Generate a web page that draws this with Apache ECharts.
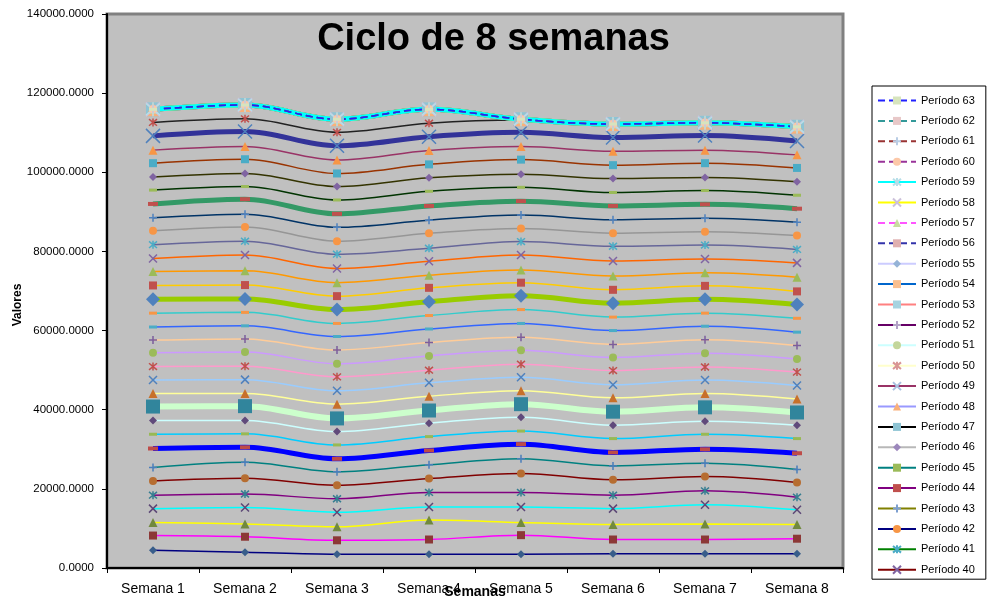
<!DOCTYPE html>
<html>
<head>
<meta charset="utf-8">
<script src="https://cdn.jsdelivr.net/npm/echarts@6/dist/echarts.min.js"></script>
<style>
  html, body { margin: 0; padding: 0; background: #ffffff; }
  #chart { width: 987px; height: 601px; }
</style>
</head>
<body>
<div id="chart"></div>
<script>
// Weeks of the cycle
const semanas = ['Semana 1', 'Semana 2', 'Semana 3', 'Semana 4', 'Semana 5', 'Semana 6', 'Semana 7', 'Semana 8'];

// Values per period (one value per week)
const p01 = [4500, 4000, 3500, 3500, 3500, 3600, 3600, 3600];
const p02 = [8200, 7900, 7000, 7200, 8300, 7200, 7200, 7400];
const p03 = [11500, 11100, 10400, 12100, 11500, 11000, 11100, 11000];
const p04 = [15000, 15300, 14100, 15400, 15400, 15000, 16000, 14700];
const p05 = [18400, 18700, 17500, 19100, 19100, 18400, 19500, 17900];
const p06 = [22000, 22700, 20900, 22600, 23900, 22300, 23100, 21600];
const p07 = [25400, 26700, 24300, 26100, 27600, 25800, 26500, 24900];
const p08 = [30200, 30500, 27600, 29700, 31300, 29200, 30000, 29000];
const p09 = [33800, 33900, 31100, 33200, 34600, 32700, 33800, 32700];
const p10 = [37300, 37300, 34500, 36600, 38100, 36100, 37100, 36100];
const p11 = [40800, 40900, 37800, 39800, 41400, 39500, 40600, 39300];
const p12 = [44100, 44100, 41400, 43400, 44800, 43000, 44100, 42700];
const p13 = [47500, 47600, 44800, 46800, 48200, 46300, 47500, 46100];
const p14 = [50900, 51000, 48300, 50000, 51500, 49900, 50800, 49500];
const p15 = [54400, 54600, 51600, 53600, 55000, 53200, 54300, 52800];
const p16 = [57600, 57900, 55100, 57000, 58300, 56500, 57700, 56200];
const p17 = [60900, 61200, 58500, 60400, 61800, 60000, 61100, 59600];
const p18 = [64400, 64600, 61800, 63800, 65300, 63400, 64400, 63100];
const p19 = [67900, 68000, 65300, 67300, 68800, 66900, 67900, 66600];
const p20 = [71400, 71500, 68700, 70800, 72100, 70300, 71300, 69900];
const p21 = [74900, 75100, 72100, 74000, 75300, 73800, 74600, 73500];
const p22 = [78200, 79100, 75700, 77500, 79100, 77600, 78100, 77100];
const p23 = [81700, 82600, 79300, 80800, 82500, 81300, 81600, 80500];
const p24 = [85200, 86200, 82600, 84600, 85800, 84600, 85000, 84000];
const p25 = [88500, 89400, 86100, 87900, 89200, 88000, 88400, 87400];
const p26 = [92000, 93200, 89500, 91500, 92700, 91500, 91900, 90800];
const p27 = [95500, 96400, 93000, 95200, 96200, 94900, 95400, 94200];
const p28 = [98800, 99700, 96400, 98600, 99500, 98400, 98700, 97600];
const p29 = [102300, 103300, 99700, 102000, 103200, 101800, 102300, 101100];
const p30 = [105600, 106500, 103100, 105500, 106500, 105300, 105600, 104400];
const p31 = [109200, 110300, 106700, 109000, 110100, 108800, 109300, 107900];
const p32 = [112600, 113500, 110100, 112400, 113200, 112000, 112300, 111300];
// Periods 33 to 63 all sit on the same ceiling values
const techo = [115900, 117000, 113400, 115900, 113400, 112200, 112500, 111500];

// Y axis ticks
const ticksY = [0, 20000, 40000, 60000, 80000, 100000, 120000, 140000];

const valores = [p01, p02, p03, p04, p05, p06, p07, p08, p09, p10, p11, p12, p13, p14, p15, p16,
  p17, p18, p19, p20, p21, p22, p23, p24, p25, p26, p27, p28, p29, p30, p31, p32];
const totalPeriodos = 63;
function datosPeriodo(n) { return n <= valores.length ? valores[n - 1] : techo; }

// ---- styling ----
const fuente = "'Liberation Sans', Arial, sans-serif";

const coloresLinea = [
  '#000080', '#FF00FF', '#FFFF00', '#00FFFF', '#800080', '#800000', '#008080', '#0000FF',
  '#00CCFF', '#CCFFFF', '#CCFFCC', '#FFFF99', '#99CCFF', '#FF99CC', '#CC99FF', '#FFCC99',
  '#3366FF', '#33CCCC', '#99CC00', '#FFCC00', '#FF9900', '#FF6600', '#666699', '#969696',
  '#003366', '#339966', '#003300', '#333300', '#993300', '#993366', '#333399', '#222222',
  '#000000', '#FF0000', '#00FF00', '#0000FF', '#FFFF00', '#FF00FF', '#00FFFF',
  '#800000', '#008000', '#000080', '#808000', '#800080', '#008080', '#B8B8B8', '#000000',
  '#9999FF', '#993366', '#FFFFCC', '#CCFFFF', '#660066', '#FF8080', '#0066CC', '#CCCCFF',
  '#3333AA', '#FF55FF', '#FFFF00', '#00FFFF', '#993399', '#993333', '#339999', '#2020FF'
];

const coloresMarca = [
  '#385D8A', '#8C3836', '#71893F', '#5C4776', '#357D91', '#B66D31',
  '#4A7EBB', '#BE4B48', '#98B954', '#604A7B', '#31859C', '#C8702A',
  '#4F81BD', '#C0504D', '#9BBB59', '#7B5E9C', '#4BACC6', '#F79646',
  '#4F81BD', '#C0504D', '#9BBB59', '#8064A2', '#4BACC6', '#F79646',
  '#4F81BD', '#C0504D', '#9BBB59', '#8064A2', '#4BACC6', '#F79646',
  '#4F81BD', '#C0504D', '#9BBB59', '#8064A2', '#4BACC6', '#F79646',
  '#4F81BD', '#C0504D', '#9BBB59', '#8064A2', '#4BACC6', '#F79646',
  '#7D9FD0', '#C0504D', '#9BBB59', '#9C88BC', '#8EC4D4', '#F9B07A',
  '#A9C0E0', '#D99694', '#C3D69B', '#B3A2C7', '#A6D3E0', '#FAC090',
  '#95B3D7', '#E0B0B0', '#C8DCA0', '#CCC1DA', '#B7DEE8', '#FCC8A8',
  '#B9CDE5', '#E8C8C8', '#D7E4BD'
];

const ciclo = ['diamond', 'rect', 'triangle', 'x', 'asterisk', 'circle', 'plus', 'dash', 'dash'];
const formas = {
  diamond: 'diamond',
  rect: 'rect',
  triangle: 'triangle',
  circle: 'circle',
  dash: 'rect',
  x: 'path://M0,0L10,10M10,0L0,10',
  asterisk: 'path://M0,0L10,10M10,0L0,10M5,-1L5,11',
  plus: 'path://M5,0L5,10M0,5L10,5'
};
const gruesas = { 8: 5, 11: 6, 19: 5, 26: 5, 31: 5, 47: 5, 48: 5, 58: 5, 59: 5 };
const discontinuas = [56, 57, 60, 61, 62, 63];

function tamano(n, forma) {
  const gruesa = gruesas[n] !== undefined;
  if (forma === 'dash') return gruesa ? [10, 4] : [8, 3];
  if (gruesa) return 14;
  if (forma === 'triangle') return 9;
  return 8;
}

const series = [];
for (let n = 1; n <= totalPeriodos; n++) {
  const forma = ciclo[(n - 1) % ciclo.length];
  const trazo = forma === 'x' || forma === 'asterisk' || forma === 'plus';
  series.push({
    name: 'Período ' + n,
    type: 'line',
    data: datosPeriodo(n),
    smooth: 0.35,
    symbol: formas[forma],
    symbolSize: tamano(n, forma),
    showSymbol: true,
    showAllSymbol: true,
    lineStyle: {
      color: coloresLinea[n - 1],
      width: gruesas[n] || 1.5,
      type: discontinuas.includes(n) ? [7, 4] : 'solid'
    },
    itemStyle: {
      color: coloresMarca[n - 1],
      borderColor: coloresMarca[n - 1],
      borderWidth: trazo ? 1.5 : 0
    },
    emphasis: { disabled: true },
    silent: true,
    animation: false
  });
}

const leyenda = [];
for (let n = totalPeriodos; n >= 40; n--) leyenda.push('Período ' + n);

const chart = echarts.init(document.getElementById('chart'), null, { renderer: 'canvas' });
chart.setOption({
  animation: false,
  backgroundColor: '#ffffff',
  title: {
    text: 'Ciclo de 8 semanas',
    left: 'center',
    top: 16,
    textStyle: { fontFamily: fuente, fontSize: 38, fontWeight: 'bold', color: '#000000' }
  },
  grid: {
    left: 107, right: 144, top: 14, bottom: 33,
    outerBoundsMode: 'none',
    containLabel: false,
    show: true,
    backgroundColor: '#C0C0C0',
    borderColor: '#808080',
    borderWidth: 3
  },
  legend: {
    orient: 'vertical',
    left: 872,
    top: 86,
    height: 500,
    data: leyenda,
    itemWidth: 38,
    itemHeight: 10,
    itemGap: 9.4,
    padding: [9, 11, 4, 5],
    backgroundColor: '#ffffff',
    borderColor: '#000000',
    borderWidth: 1,
    borderRadius: 0,
    selectedMode: false,
    textStyle: { fontFamily: fuente, fontSize: 11, color: '#000000' }
  },
  xAxis: {
    type: 'category',
    data: semanas,
    boundaryGap: true,
    name: 'Semanas',
    nameLocation: 'middle',
    nameGap: 17,
    nameMoveOverlap: false,
    nameTextStyle: { fontFamily: fuente, fontSize: 14, fontWeight: 'bold', color: '#000000' },
    axisLine: { show: true, lineStyle: { color: '#000000', width: 2 } },
    axisTick: { show: true, length: 5, interval: 0, alignWithLabel: false, lineStyle: { color: '#000000', width: 1 } },
    axisLabel: { interval: 0, margin: 14, fontFamily: fuente, fontSize: 14, color: '#000000' },
    splitLine: { show: false }
  },
  yAxis: {
    type: 'value',
    min: ticksY[0],
    max: ticksY[ticksY.length - 1],
    interval: ticksY[1] - ticksY[0],
    name: 'Valores',
    nameLocation: 'middle',
    nameGap: 83,
    nameMoveOverlap: false,
    nameTextStyle: { fontFamily: fuente, fontSize: 12, fontWeight: 'bold', color: '#000000', padding: [0, 28, 0, 0] },
    axisLine: { show: true, lineStyle: { color: '#000000', width: 2 } },
    axisTick: { show: true, length: 5, lineStyle: { color: '#000000', width: 1 } },
    axisLabel: {
      margin: 13,
      fontFamily: fuente, fontSize: 11.5, color: '#000000',
      formatter: function (v) { return v.toFixed(4); }
    },
    splitLine: { show: false }
  },
  series: series
});
</script>
</body>
</html>
